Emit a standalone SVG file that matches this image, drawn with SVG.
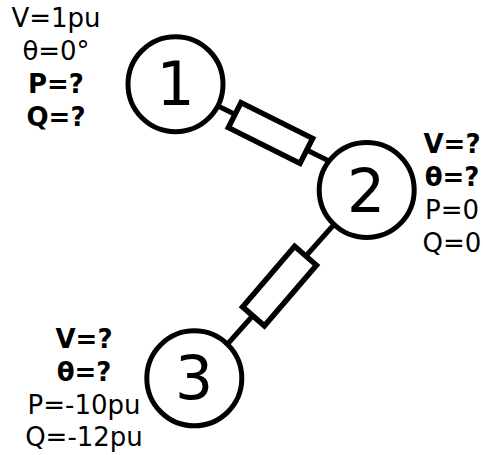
<svg xmlns="http://www.w3.org/2000/svg" width="483" height="455" viewBox="0 0 483 455">
<style>
.bus{fill:#fff;stroke:#000;stroke-width:5}
.line{fill:none;stroke:#000;stroke-width:5}
.imp{fill:#fff;stroke:#000;stroke-width:5.5}
text{font-family:"DejaVu Sans",sans-serif;fill:#000;text-anchor:middle}
.num{font-size:60px}
.lbl{font-size:26px}
.b{font-weight:bold}
</style>
<g id="connectors">
<line class="line" x1="210" y1="102" x2="335" y2="164"/>
<line class="line" x1="338" y1="220" x2="224" y2="348"/>
<polygon class="imp" points="241,102.6 312.6,138.4 300,163.4 228.4,127.6"/>
<polygon class="imp" points="294.6,246.3 316.4,265.3 264.4,325.9 242.6,306.9"/>
</g>
<g id="node1"><circle class="bus" cx="175.5" cy="84.2" r="47.5"/><text class="num" x="175.5" y="105">1</text>
<text class="lbl" x="56" y="27">V=1pu</text><text class="lbl" x="56" y="60">θ=0°</text><text class="lbl b" x="56" y="93">P=?</text><text class="lbl b" x="56" y="126">Q=?</text></g>
<g id="node2"><circle class="bus" cx="366.7" cy="190" r="47.5"/><text class="num" x="366" y="212">2</text>
<text class="lbl b" x="452" y="153">V=?</text><text class="lbl b" x="452" y="186">θ=?</text><text class="lbl" x="452" y="219">P=0</text><text class="lbl" x="452" y="252">Q=0</text></g>
<g id="node3"><circle class="bus" cx="194.3" cy="378.3" r="47.5"/><text class="num" x="194" y="399">3</text>
<text class="lbl b" x="84" y="348">V=?</text><text class="lbl b" x="84" y="381">θ=?</text><text class="lbl" x="84" y="414">P=-10pu</text><text class="lbl" x="84" y="446">Q=-12pu</text></g>
</svg>
